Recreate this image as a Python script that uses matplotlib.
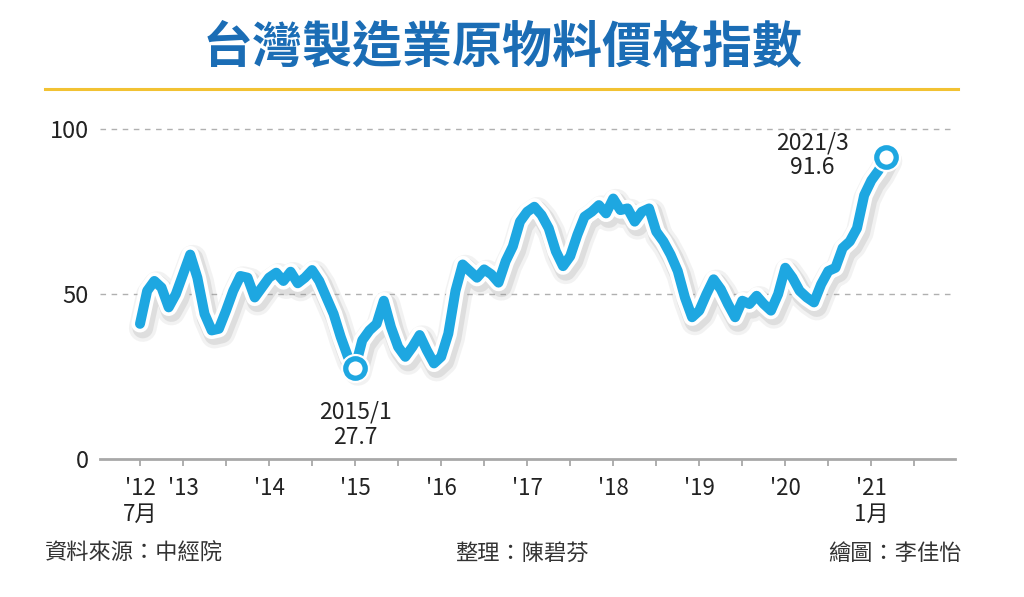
import matplotlib
matplotlib.use("Agg")
import matplotlib.pyplot as plt
import matplotlib.patheffects as pe
import numpy as np

plt.rcParams['font.family'] = ['Noto Sans CJK TC', 'DejaVu Sans']

# Monthly index, July 2012 .. March 2021
values = [
    41, 51, 54, 52, 46, 50,                 # 2012/7-12
    56, 62, 55, 44, 39, 39.5, 45, 51, 55.5, 55, 49, 52,   # 2013
    55, 56.5, 54, 56.8, 53.3, 55, 57.3, 54, 49, 44, 37, 31,  # 2014
    27.7, 36, 39, 41, 48, 40, 34, 31, 34, 37.6, 33, 29,    # 2015
    31, 38, 51, 59, 57, 55, 57.5, 56, 53.5, 60, 64.5, 72,  # 2016
    75, 76.5, 74, 70, 63, 58.5, 61.5, 68, 73.5, 75, 77, 74.5,  # 2017
    79, 75.5, 76, 72, 75, 76, 69, 66, 62, 57, 49, 43,      # 2018
    45, 50, 54.5, 51.5, 47, 43, 48, 47, 49.5, 47, 45, 50,  # 2019
    58, 55, 51, 49, 47.5, 53, 57, 58, 64, 66, 70, 80,      # 2020
    84.5, 87.5, 91.6,                                       # 2021/1-3
]
months = np.arange(len(values))

tick_positions = list(range(0, 109, 6))
tick_labels = ["'12\n7月", "'13", "", "'14", "", "'15", "", "'16", "", "'17", "",
               "'18", "", "'19", "", "'20", "", "'21\n1月", ""]

low_idx, low_label = 30, "2015/1\n27.7"
high_idx, high_label = 104, "2021/3\n91.6"

title = "台灣製造業原物料價格指數"
source = "資料來源：中經院"
editor = "整理：陳碧芬"
artist = "繪圖：李佳怡"

blue = '#1ea7e1'
title_blue = '#1b6db5'

W, H = 1024, 597
fig = plt.figure(figsize=(W / 100, H / 100), dpi=100)
fig.patch.set_facecolor('white')

# axes placement in pixels
left_px, right_px = 100, 955
zero_px = 459
px_per_unit = 3.297
ymax = 106
top_px = zero_px - ymax * px_per_unit
ax = fig.add_axes([left_px / W, (H - zero_px) / H, (right_px - left_px) / W,
                   (zero_px - top_px) / H])
px_per_month = 7.17
x0 = (left_px - 140) / px_per_month
x1 = (right_px - 140) / px_per_month
ax.set_xlim(x0, x1)
ax.set_ylim(0, ymax)

for s in ['top', 'right', 'left']:
    ax.spines[s].set_visible(False)
ax.spines['bottom'].set_color('#a8a8a8')
ax.spines['bottom'].set_linewidth(2.0)

for gy in [50, 100]:
    ax.axhline(gy, color='#b0b0b0', lw=1.0, dashes=(4, 4), zorder=1)

ax.set_yticks([0, 50, 100])
ax.set_yticklabels(['0', '50', '100'])
ax.tick_params(axis='y', length=0, pad=8, labelsize=17, labelcolor='#222222')
ax.set_xticks(tick_positions)
ax.set_xticklabels(tick_labels, linespacing=1.15)
ax.tick_params(axis='x', direction='out', length=5, width=1.3, color='#a8a8a8',
               pad=8, labelsize=16, labelcolor='#222222')

line, = ax.plot(months, values, color=blue, lw=7.2, solid_joinstyle='round',
                solid_capstyle='round', zorder=3)
line.set_path_effects([
    pe.SimpleLineShadow(offset=(2, -3), shadow_color='#999999', alpha=0.12, linewidth=20),
    pe.SimpleLineShadow(offset=(2, -3), shadow_color='#888888', alpha=0.18, linewidth=15),
    pe.Stroke(linewidth=12.5, foreground='white'),
    pe.Normal(),
])

for idx in (low_idx, high_idx):
    ax.plot(months[idx], values[idx], 'o', ms=20, mfc='white', mec='white', zorder=4)
    ax.plot(months[idx], values[idx], 'o', ms=14, mfc='white', mec=blue, mew=3.8, zorder=5)

ax.annotate(low_label, xy=(months[low_idx], values[low_idx]), xytext=(0, -57),
            textcoords='offset pixels', ha='center', va='center', fontsize=16.5,
            color='#222222', linespacing=1.1)
ax.annotate(high_label, xy=(months[high_idx], values[high_idx]), xytext=(-73, 2),
            textcoords='offset pixels', ha='center', va='center', fontsize=16.5,
            color='#222222', linespacing=1.1)

fig.text(503 / W, 1 - 48 / H, title, ha='center', va='center', fontsize=36,
         fontweight='black', color=title_blue)
fig.add_artist(plt.Line2D([45 / W, 958 / W], [1 - 89 / H, 1 - 89 / H],
                          color='#f2c233', lw=2.2, transform=fig.transFigure))

fy = 1 - 553 / H
fig.text(45 / W, fy, source, ha='left', va='center', fontsize=16, color='#333333')
fig.text(522 / W, fy, editor, ha='center', va='center', fontsize=16, color='#333333')
fig.text(962 / W, fy, artist, ha='right', va='center', fontsize=16, color='#333333')

fig.savefig('out.png', dpi=100, facecolor='white')
